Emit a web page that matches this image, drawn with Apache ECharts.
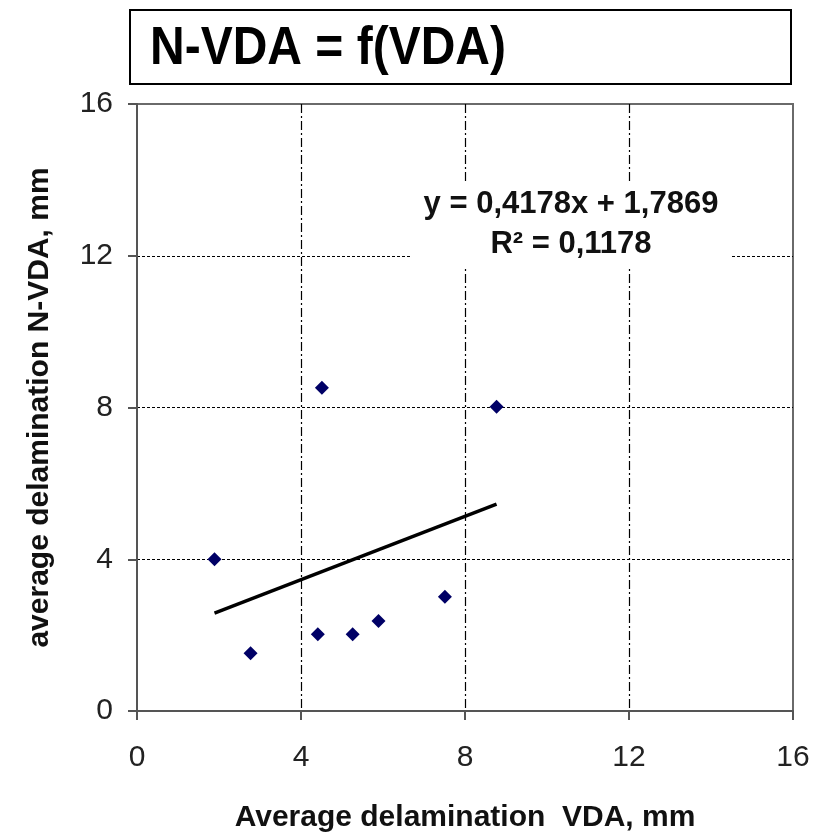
<!DOCTYPE html>
<html>
<head>
<meta charset="utf-8">
<script src="https://cdn.jsdelivr.net/npm/echarts@6/dist/echarts.min.js"></script>
<style>
html,body{margin:0;padding:0;background:#fff;}
#chart{width:821px;height:838px;}
</style>
</head>
<body>
<div id="chart"></div>
<script>
// Data
var vdaValues  = [1.89, 2.77, 4.41, 4.51, 5.26, 5.89, 7.51, 8.77];
var nvdaValues = [4.0, 1.52, 2.02, 8.52, 2.02, 2.37, 3.01, 8.02];
var trendX = [1.89, 8.77];
var trendY = [2.58, 5.45];
var axisTicks = [0, 4, 8, 12, 16];
var titleText = 'N-VDA = f(VDA)';
var equationLines = ['y = 0,4178x + 1,7869', 'R\u00B2 = 0,1178'];
var xAxisTitle = 'Average delamination  VDA, mm';
var yAxisTitle = 'average delamination N-VDA, mm';

var points = vdaValues.map(function (x, i) { return [x, nvdaValues[i]]; });
var trend = trendX.map(function (x, i) { return [x, trendY[i]]; });

var chart = echarts.init(document.getElementById('chart'), null, {renderer: 'canvas'});
var font = 'Liberation Sans, Arial, sans-serif';

chart.setOption({
  backgroundColor: '#fff',
  animation: false,
  grid: {
    left: 137, right: 28, top: 104, bottom: 125,
    show: true, borderColor: '#6a6a6a', borderWidth: 2, backgroundColor: 'transparent'
  },
  xAxis: {
    type: 'value', min: axisTicks[0], max: axisTicks[axisTicks.length - 1], interval: 4,
    name: xAxisTitle, nameLocation: 'middle', nameGap: 92,
    nameTextStyle: {fontFamily: font, fontWeight: 'bold', fontSize: 30, color: '#111'},
    axisLine: {lineStyle: {color: '#555', width: 2}},
    axisTick: {show: true, length: 9, lineStyle: {color: '#555', width: 2}},
    axisLabel: {fontFamily: font, fontSize: 30, color: '#222', margin: 32},
    splitLine: {show: true, showMinLine: false, showMaxLine: false,
      lineStyle: {color: '#000', width: 1.2, type: [9, 3, 2, 3]}}
  },
  yAxis: {
    type: 'value', min: axisTicks[0], max: axisTicks[axisTicks.length - 1], interval: 4,
    name: yAxisTitle, nameLocation: 'middle', nameGap: 82, nameRotate: 90,
    nameTextStyle: {fontFamily: font, fontWeight: 'bold', fontSize: 30, color: '#111'},
    axisLine: {show: true, lineStyle: {color: '#555', width: 2}},
    axisTick: {show: true, length: 9, lineStyle: {color: '#555', width: 2}},
    axisLabel: {fontFamily: font, fontSize: 30, color: '#222', margin: 24},
    splitLine: {show: true, showMinLine: false, showMaxLine: false,
      lineStyle: {color: '#000', width: 1.2, type: [3, 2]}}
  },
  series: [
    {
      type: 'line', data: trend, symbol: 'none', z: 3,
      lineStyle: {color: '#000', width: 3.5}
    },
    {
      type: 'scatter', data: points, symbol: 'diamond', symbolSize: 14, z: 4,
      itemStyle: {color: '#000066', opacity: 1}
    }
  ],
  graphic: [
    {
      type: 'rect', shape: {x: 130, y: 10, width: 661, height: 74},
      style: {fill: '#fff', stroke: '#000', lineWidth: 2}
    },
    {
      type: 'text', x: 150, y: 49, scaleY: 1.12,
      style: {text: titleText, fontFamily: font, fontWeight: 'bold', fontSize: 48,
        fill: '#000', verticalAlign: 'middle', textAlign: 'left'}
    },
    {
      type: 'text', x: 571, y: 224, z: 10,
      style: {text: equationLines.join('\n'), fontFamily: font, fontWeight: 'bold',
        fontSize: 31, lineHeight: 40, fill: '#111', textAlign: 'center', verticalAlign: 'middle',
        backgroundColor: '#fff', padding: [2, 12, 2, 12]}
    }
  ]
});
</script>
</body>
</html>
